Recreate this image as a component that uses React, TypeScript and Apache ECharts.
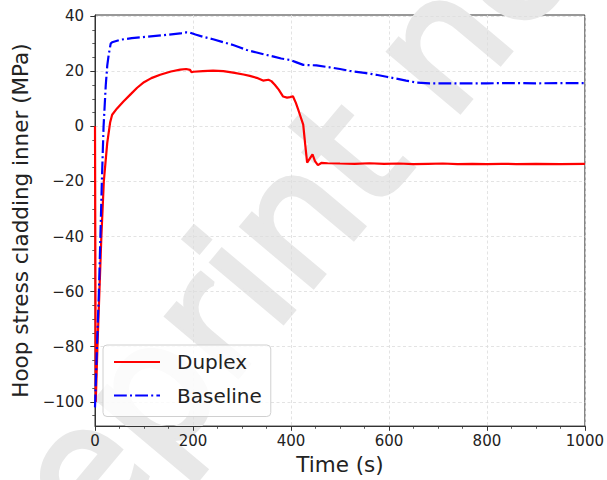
import React, { useEffect, useRef } from "react";
import * as echarts from "echarts";

// Hoop stress at the cladding inner surface over time
const duplexTime = [
  0, 1.5, 5, 9, 13, 18, 25, 31, 35, 45, 58, 72, 86, 100, 115, 133, 155, 174, 186, 194, 197, 201, 220, 241,
  262, 282, 303, 316, 330, 343, 354, 360, 367, 375, 384, 392, 398, 404, 410, 415, 420, 425, 429, 433, 438,
  444, 449, 455, 462, 475, 500, 530, 560, 590, 620, 650, 680, 710, 740, 770, 800, 830, 860, 900, 950, 1000,
];
const duplexStress = [
  0, -100, -80, -60, -40, -20, -6, 1.5, 4.2, 6.5, 9.0, 11.5, 14.0, 16.0, 17.5, 18.7, 19.9, 20.6, 20.8, 20.5,
  19.6, 19.8, 20.0, 20.2, 20.0, 19.5, 18.8, 18.3, 17.6, 16.6, 16.9, 16.4, 15.1, 13.3, 10.8, 10.4, 10.6, 10.9,
  8.5, 6.0, 3.3, 0.6, -6.5, -13.2, -11.8, -10.2, -12.6, -14.1, -13.3, -13.4, -13.5, -13.6, -13.4, -13.6,
  -13.5, -13.7, -13.6, -13.5, -13.7, -13.6, -13.7, -13.6, -13.7, -13.6, -13.7, -13.6,
];

const baselineTime = [
  0, 4, 8, 11, 14, 17.5, 22, 25, 28, 32, 35, 51, 75, 106, 140, 174, 186, 194, 205, 220, 241, 262, 282, 296,
  310, 330, 350, 365, 380, 398, 410, 425, 440, 452, 479, 500, 520, 550, 574, 595, 615, 635, 656, 683, 720,
  760, 800, 850, 900, 950, 1000,
];
const baselineStress = [
  -102, -80, -60, -40, -20, 0, 15, 22, 26, 30, 30.5, 31.4, 32.0, 32.5, 33.1, 33.7, 34.1, 34.0, 33.3, 32.5,
  31.6, 30.5, 29.5, 28.6, 27.7, 26.8, 25.9, 25.3, 24.6, 24.1, 23.3, 22.3, 22.2, 22.1, 21.4, 20.8, 20.1,
  19.4, 18.7, 18.0, 17.3, 16.6, 15.9, 15.6, 15.6, 15.6, 15.6, 15.7, 15.6, 15.7, 15.7,
];

const yMajorTicks = [-100, -80, -60, -40, -20, 0, 20, 40];
const yMinorTicks = [-105, -95, -90, -85, -75, -70, -65, -55, -50, -45, -35, -30, -25, -15, -10, -5, 5, 10, 15, 25, 30, 35];

const FONT = "DejaVu Sans";
const INK = "#222";

const pairs = (xs: number[], ys: number[]) => xs.map((x, i) => [x, ys[i]]);

export default function App() {
  const ref = useRef<HTMLDivElement>(null);

  useEffect(() => {
    if (!ref.current) return;
    const chart = echarts.init(ref.current, null, { renderer: "svg" });

    // watermark laid out along a rotated baseline
    const theta = (50 * Math.PI) / 180;
    const wmSize = 170;
    const bowl = [162, 394];
    const mid = [bowl[0] - 0.073 * wmSize * Math.sin(theta), bowl[1] - 0.073 * wmSize * Math.cos(theta)];
    const along = 1.9465 * wmSize;
    const wmX = mid[0] - along * Math.cos(theta);
    const wmY = mid[1] + along * Math.sin(theta);

    const tickLine = { color: "#333", width: 1 };
    const gridLine = { color: "#dcdcdc", width: 0.8, type: [3, 2.5] };

    chart.setOption({
      animation: false,
      backgroundColor: "#fff",
      grid: {
        left: 95,
        right: 21,
        top: 15,
        bottom: 52,
        show: true,
        borderColor: "#333",
        borderWidth: 1,
        backgroundColor: "transparent",
      },
      graphic: [
        {
          type: "text",
          x: wmX,
          y: wmY,
          rotation: theta,
          silent: true,
          z: 0,
          style: {
            text: "Preprint not peer reviewed",
            fontFamily: FONT,
            fontSize: wmSize,
            fill: "#e8e8e8",
            stroke: "#e8e8e8",
            lineWidth: 5,
            align: "left",
            verticalAlign: "middle",
          },
        },
      ],
      legend: {
        left: 103,
        top: 345,
        orient: "vertical",
        padding: [5, 9, 9, 10],
        itemGap: 9.5,
        itemWidth: 46,
        itemHeight: 14,
        backgroundColor: "rgba(255,255,255,0.8)",
        borderColor: "#d0d0d0",
        borderWidth: 1,
        borderRadius: 4,
        itemStyle: { color: "rgba(0,0,0,0)", borderWidth: 0, opacity: 0 },
        textStyle: {
          fontFamily: FONT,
          fontSize: 20,
          color: INK,
          lineHeight: 24,
          padding: [0, 0, 0, 12],
        },
        data: ["Duplex", "Baseline"],
      },
      xAxis: {
        type: "value",
        min: 0,
        max: 1000,
        interval: 200,
        name: "Time (s)",
        nameLocation: "middle",
        nameGap: 26,
        nameTextStyle: { fontFamily: FONT, fontSize: 21.5, color: INK },
        axisLine: { show: true, onZero: false, lineStyle: tickLine },
        axisTick: { show: true, length: 4.7, lineStyle: tickLine },
        minorTick: { show: true, splitNumber: 4, length: 2.7, lineStyle: { color: "#333", width: 0.8 } },
        axisLabel: {
          fontFamily: FONT,
          fontSize: 15,
          color: INK,
          margin: 7,
          formatter: (v: number) => String(v),
        },
        splitLine: { show: true, lineStyle: gridLine },
      },
      yAxis: [
        {
          type: "value",
          min: -108.8,
          max: 40.4,
          name: "Hoop stress cladding inner (MPa)",
          nameLocation: "middle",
          nameGap: 62,
          nameTextStyle: { fontFamily: FONT, fontSize: 21.5, color: INK },
          axisLine: { show: true, onZero: false, lineStyle: tickLine },
          axisTick: { show: true, length: 4.7, customValues: yMajorTicks, lineStyle: tickLine },
          axisLabel: {
            fontFamily: FONT,
            fontSize: 15,
            color: INK,
            margin: 11,
            customValues: yMajorTicks,
            formatter: (v: number) => String(v).replace("-", "\u2212"),
          },
          splitLine: { show: true, lineStyle: gridLine },
        },
        {
          type: "value",
          min: -108.8,
          max: 40.4,
          position: "left",
          axisLine: { show: false, onZero: false },
          axisTick: { show: true, length: 2.7, customValues: yMinorTicks, lineStyle: { color: "#333", width: 0.8 } },
          axisLabel: { show: false },
          splitLine: { show: false },
        },
      ],
      series: [
        {
          name: "Duplex",
          type: "line",
          data: pairs(duplexTime, duplexStress),
          symbol: "none",
          showSymbol: false,
          z: 3,
          lineStyle: { color: "#ff0000", width: 2.2 },
          itemStyle: { color: "#ff0000" },
        },
        {
          name: "Baseline",
          type: "line",
          data: pairs(baselineTime, baselineStress),
          symbol: "none",
          showSymbol: false,
          z: 3,
          lineStyle: { color: "#0000ff", width: 2.2, type: [12.8, 3.2, 2, 3.2] },
          itemStyle: { color: "#0000ff" },
        },
      ],
    });

    return () => chart.dispose();
  }, []);

  return (
    <div
      ref={ref}
      style={{ position: "fixed", left: 0, top: 0, width: 607, height: 480, background: "#fff" }}
    />
  );
}
